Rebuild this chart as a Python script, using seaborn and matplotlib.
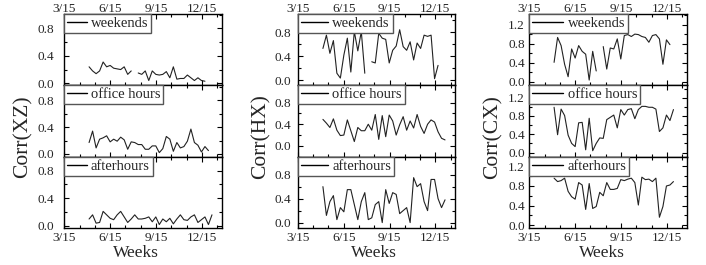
import numpy as np
import pandas as pd
import matplotlib
matplotlib.use("Agg")
import matplotlib.pyplot as plt
import seaborn as sns

nan = np.nan

# x axis: days since 3/15
tick_days = [0, 92, 184, 275]
tick_labels = ["3/15", "6/15", "9/15", "12/15"]
minor_days = [31, 61, 122, 153, 214, 245, 306]
first_week_day = 50

periods = ["weekends", "office hours", "afterhours"]
ylabels = ["Corr(XZ)", "Corr(HX)", "Corr(CX)"]

xz_weekends = [0.24, 0.18, 0.14, 0.18, 0.31, 0.24, 0.26, 0.22, 0.21, 0.20, 0.24, 0.13, 0.18, nan,
               0.15, 0.13, 0.18, 0.04, 0.18, 0.13, 0.12, 0.13, 0.17, 0.08, 0.24, 0.06, 0.07, 0.07,
               0.12, 0.08, 0.04, 0.08, 0.04, 0.03]
xz_office = [0.17, 0.34, 0.09, 0.22, 0.24, 0.27, 0.18, 0.22, 0.19, 0.25, 0.21, 0.07, 0.18, 0.17,
             0.14, 0.14, 0.07, 0.07, 0.12, 0.12, 0.02, 0.08, 0.26, 0.22, 0.04, 0.17, 0.09, 0.11,
             0.19, 0.37, 0.17, 0.13, 0.03, 0.11, 0.05]
xz_after = [0.10, 0.16, 0.04, 0.05, 0.21, 0.16, 0.11, 0.09, 0.16, 0.21, 0.13, 0.05, 0.10, 0.16,
            0.10, 0.10, 0.11, 0.13, 0.06, 0.13, 0.02, 0.10, 0.06, 0.11, 0.03, 0.10, 0.16, 0.09,
            0.08, 0.13, 0.16, 0.05, 0.09, 0.13, 0.02, 0.16]

hx_weekends = [0.53, 0.75, 0.45, 0.66, 0.12, 0.04, 0.42, 0.70, 0.14, 0.81, 0.49, 0.81, 0.12, nan,
               0.31, 0.29, 0.78, 0.70, 0.68, 0.29, 0.50, 0.57, 0.84, 0.56, 0.50, 0.64, 0.34, 0.62,
               0.53, 0.75, 0.73, 0.75, 0.03, 0.25]
hx_office = [0.49, 0.42, 0.34, 0.50, 0.29, 0.19, 0.20, 0.48, 0.28, 0.08, 0.34, 0.28, 0.28, 0.40,
             0.29, 0.58, 0.12, 0.56, 0.17, 0.57, 0.46, 0.20, 0.39, 0.54, 0.29, 0.46, 0.33, 0.58,
             0.36, 0.23, 0.40, 0.48, 0.44, 0.26, 0.14, 0.11]
hx_after = [0.60, 0.12, 0.35, 0.45, 0.05, 0.25, 0.18, 0.55, 0.55, 0.30, 0.05, 0.35, 0.50, 0.05,
            0.08, 0.30, 0.35, 0.00, 0.55, 0.32, 0.50, 0.47, 0.15, 0.20, 0.25, 0.00, 0.75, 0.60,
            0.65, 0.35, 0.20, 0.72, 0.72, 0.40, 0.25, 0.38]

cx_weekends = [0.41, 0.93, 0.76, 0.37, 0.11, 0.69, 0.50, 0.76, 0.64, 0.58, 0.04, 0.64, 0.23, nan,
               0.74, 0.27, 0.71, 0.69, 0.90, 0.48, 0.97, 0.99, 0.95, 1.00, 0.99, 0.95, 0.93, 0.83,
               0.97, 0.99, 0.90, 0.37, 0.88, 0.78]
cx_office = [0.99, 0.39, 0.95, 0.81, 0.38, 0.20, 0.13, 0.65, 0.66, 0.06, 0.75, 0.04, 0.20, 0.32,
             0.31, 0.72, 0.77, 0.82, 0.54, 0.94, 0.82, 0.94, 0.96, 0.74, 0.94, 1.01, 1.01, 0.99,
             0.99, 0.95, 0.46, 0.54, 0.82, 0.70, 0.94]
cx_after = [0.96, 0.89, 0.91, 0.96, 0.69, 0.58, 0.53, 0.87, 0.82, 0.32, 0.85, 0.34, 0.38, 0.67,
            0.60, 0.87, 0.73, 0.73, 0.75, 0.93, 0.91, 0.94, 0.96, 0.87, 0.41, 0.98, 0.93, 0.94,
            0.89, 0.96, 0.16, 0.38, 0.80, 0.82, 0.89]

columns = [
    [xz_weekends, xz_office, xz_after],
    [hx_weekends, hx_office, hx_after],
    [cx_weekends, cx_office, cx_after],
]
ylims = [
    [(-0.03, 1.01), (-0.04, 1.02), (-0.03, 1.0)],
    [(-0.08, 1.1), (-0.2, 1.12), (-0.09, 1.1)],
    [(-0.07, 1.42), (-0.09, 1.47), (-0.06, 1.4)],
]
yticks = [[0.0, 0.4, 0.8], [0.0, 0.4, 0.8], [0.0, 0.4, 0.8, 1.2]]
handle_len = [1.35, 1.85, 2.15]
ytick_pad = [7.0, 5.0, 3.0]
ylabel_x = [33, 271, 503]      # right edge of rotated y label (px)
xlabel_cx = [136, 374, 602]    # center of "Weeks" (px)


def to_frame(vals):
    y = np.array(vals, dtype=float)
    x = first_week_day + 7 * np.arange(len(y))
    seg = np.cumsum(np.isnan(y))
    df = pd.DataFrame({"day": x, "corr": y, "seg": seg})
    return df.dropna()


sns.set_style("ticks")
plt.rcParams["font.family"] = ["Liberation Serif", "DejaVu Serif"]

fig = plt.figure(figsize=(7.06, 2.65), dpi=100)
col_lr = [(64, 222), (298, 455), (529, 687)]
W, H = 706, 265
top_px, bot_px = 14, 228

for c, (l, r) in enumerate(col_lr):
    gs = fig.add_gridspec(3, 1, left=l / W, right=r / W, top=1 - top_px / H,
                          bottom=1 - bot_px / H, hspace=0)
    axes = [fig.add_subplot(gs[i]) for i in range(3)]
    for i, ax in enumerate(axes):
        df = to_frame(columns[c][i])
        sns.lineplot(data=df, x="day", y="corr", units="seg", estimator=None,
                     ax=ax, color="#222222", lw=0.8)
        ax.plot([], [], color="black", lw=1.0, label=periods[i])
        leg = ax.legend(loc="upper left", borderaxespad=0, fancybox=False,
                        fontsize=10.5, handlelength=handle_len[c], handletextpad=0.3,
                        borderpad=0.2, framealpha=1)
        leg.get_frame().set_edgecolor("#555555")
        leg.get_frame().set_linewidth(1.0)
        ax.set_xlim(0, 315)
        ax.set_ylim(*ylims[c][i])
        ax.set_xticks(tick_days)
        ax.set_xticks(minor_days, minor=True)
        ax.set_yticks(yticks[c])
        ax.set_yticklabels([f"{v:.1f}" for v in yticks[c]])
        ax.yaxis.set_minor_locator(matplotlib.ticker.MultipleLocator(0.2))
        ax.tick_params(which="both", direction="in", top=True, right=True,
                       labelsize=9.5, width=0.8, color="black")
        ax.tick_params(axis="y", pad=ytick_pad[c])
        ax.tick_params(which="major", length=3.5)
        ax.tick_params(which="minor", length=2)
        for s in ax.spines.values():
            s.set_linewidth(1.0)
            s.set_color("black")
        ax.set_xlabel("")
        ax.set_ylabel("")
        if i == 0:
            ax.set_xticklabels(tick_labels)
            ax.tick_params(axis="x", labeltop=True, labelbottom=False, pad=1.5)
            for t in ax.xaxis.get_major_ticks():
                t.label2.set_verticalalignment("baseline")
        elif i == 1:
            ax.set_xticklabels([])
            ax.set_ylabel(ylabels[c], fontsize=15.5)
            pos = ax.get_position()
            ax.yaxis.set_label_coords((ylabel_x[c] - l) / (pos.width * W),
                                      (157 - 137) / (pos.height * H))
        else:
            ax.set_xticklabels(tick_labels)
            ax.tick_params(axis="x", pad=3.2)
            ax.set_xlabel("Weeks", fontsize=12.5)
            ax.xaxis.set_label_coords((xlabel_cx[c] - l) / (r - l), -0.24)

fig.savefig("out.png", dpi=100)
